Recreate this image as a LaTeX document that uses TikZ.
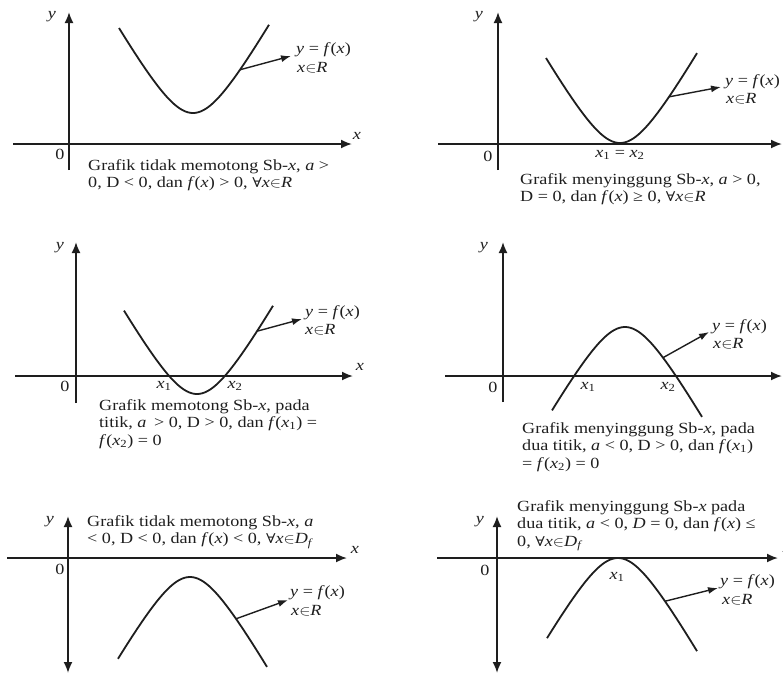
\documentclass[tikz,border=0pt]{standalone}
\usepackage{fontspec}
\usepackage{graphicx}
\setmainfont{Liberation Serif}
\newfontfamily\symfam{DejaVu Serif}
\usetikzlibrary{arrows.meta}
\definecolor{ink}{RGB}{30,30,30}
\tikzset{
  axis/.style={draw=ink, line width=1.8pt, -{Latex[length=11pt,width=9pt]}},
  daxis/.style={draw=ink, line width=1.8pt, {Latex[length=11pt,width=9pt]}-{Latex[length=11pt,width=9pt]}},
  graph/.style={draw=ink, line width=1.8pt, line join=round},
  pointer/.style={draw=ink, line width=1.4pt, -{Latex[length=10pt,width=7pt]}},
  lbl/.style={text=ink, font=\fontsize{15.5}{17.5}\selectfont, inner sep=0pt},
  fl/.style={lbl, anchor=west},
  captext/.style={lbl, anchor=base west},
}
\newcommand{\vx}{\textit{x}}
\newcommand{\fx}{\textit{f}(\textit{x})}
\newcommand{\fa}{{\symfam\fontsize{13.5}{17.5}\selectfont ∀}}
\newcommand{\sx}[1]{\scalebox{1.17}[1]{#1}}
\newcommand{\capt}[1]{\sx{\begin{tabular}[t]{@{}l@{}}#1\end{tabular}}}
\begin{document}
\begin{tikzpicture}[x=1pt,y=-1pt]
\useasboundingbox (0,0) rectangle (783,675);
% ---------------- Panel 1 ----------------
\coordinate (p1yb) at (69,170); \coordinate (p1yt) at (69,12);
\coordinate (p1xl) at (13,144); \coordinate (p1xr) at (352,144);
\draw[axis] (p1yb) -- (p1yt);
\draw[axis] (p1xl) -- (p1xr);
\node[lbl] (p1y) at (52,17) {\sx{\textit{y}}};
\node[lbl] (p1x) at (357,136) {\sx{\vx}};
\node[lbl] (p1o) at (60,154) {\sx{0}};
\draw[graph] plot[domain=-74:76, samples=70, smooth] ({193+\x},{113-1.77*(sqrt((\x)*(\x)+1089)-33)});
\coordinate (p1s) at ({193+47},{113-1.77*(sqrt(47*47+1089)-33)});
\node[fl] (p1f) at (296,50) {\sx{\textit{y} = \fx}};
\node[fl] (p1r) at (297,68) {\sx{\vx$\in$\textit{R}}};
\coordinate (p1e) at (291,56);
\draw[pointer] (p1s) -- (p1e);
\node[captext] (p1c) at (88,170) {\capt{Grafik tidak memotong Sb-\vx, \textit{a} >\\0, D < 0, dan \fx{} > 0, \fa\vx$\in$\textit{R}}};
% ---------------- Panel 2 ----------------
\coordinate (p2yb) at (498,170); \coordinate (p2yt) at (498,12);
\coordinate (p2xl) at (438,144); \coordinate (p2xr) at (782,144);
\draw[axis] (p2yb) -- (p2yt);
\draw[axis] (p2xl) -- (p2xr);
\node[lbl] (p2y) at (479,17) {\sx{\textit{y}}};
\node[lbl] (p2x) at (788,135) {\sx{\vx}};
\node[lbl] (p2o) at (488,156) {\sx{0}};
\draw[graph] plot[domain=-74:77, samples=70, smooth] ({620+\x},{143-1.77*(sqrt((\x)*(\x)+1089)-33)});
\coordinate (p2s) at ({620+49},{143-1.77*(sqrt(49*49+1089)-33)});
\node[fl] (p2f) at (725,82) {\sx{\textit{y} = \fx}};
\node[fl] (p2r) at (726,99) {\sx{\vx$\in$\textit{R}}};
\coordinate (p2e) at (721,87);
\draw[pointer] (p2s) -- (p2e);
\node[lbl] (p2x12) at (620,155) {\sx{\vx\textsubscript{1} = \vx\textsubscript{2}}};
\node[captext] (p2c) at (520,184) {\capt{Grafik menyinggung Sb-\vx, \textit{a} > 0,\\D = 0, dan \fx{} ≥ 0, \fa\vx$\in$\textit{R}}};
% ---------------- Panel 3 ----------------
\coordinate (p3yb) at (76,403); \coordinate (p3yt) at (76,242);
\coordinate (p3xl) at (15,376); \coordinate (p3xr) at (353,376);
\draw[axis] (p3yb) -- (p3yt);
\draw[axis] (p3xl) -- (p3xr);
\node[lbl] (p3y) at (60,248) {\sx{\textit{y}}};
\node[lbl] (p3x) at (360,367) {\sx{\vx}};
\node[lbl] (p3o) at (65,386) {\sx{0}};
\draw[graph] plot[domain=-73:76, samples=70, smooth] ({197+\x},{394-1.77*(sqrt((\x)*(\x)+1089)-33)});
\coordinate (p3s) at ({197+60},{394-1.77*(sqrt(60*60+1089)-33)});
\node[fl] (p3f) at (305,313) {\sx{\textit{y} = \fx}};
\node[fl] (p3r) at (305,330) {\sx{\vx$\in$\textit{R}}};
\coordinate (p3e) at (302,319);
\draw[pointer] (p3s) -- (p3e);
\node[lbl] (p3x1) at (164,386) {\sx{\vx\textsubscript{1}}};
\node[lbl] (p3x2) at (235,386) {\sx{\vx\textsubscript{2}}};
\node[captext] (p3c) at (99,410) {\capt{Grafik memotong Sb-\vx, pada\\titik, \textit{a}\, > 0, D > 0, dan \textit{f}(\vx\textsubscript{1}) =\\\textit{f}(\vx\textsubscript{2}) = 0}};
% ---------------- Panel 4 ----------------
\coordinate (p4yb) at (503,402); \coordinate (p4yt) at (503,242);
\coordinate (p4xl) at (445,376); \coordinate (p4xr) at (782,376);
\draw[axis] (p4yb) -- (p4yt);
\draw[axis] (p4xl) -- (p4xr);
\node[lbl] (p4y) at (484,248) {\sx{\textit{y}}};
\node[lbl] (p4o) at (493,387) {\sx{0}};
\draw[graph] plot[domain=-73:77, samples=70, smooth] ({625+\x},{327+1.77*(sqrt((\x)*(\x)+1089)-33)});
\coordinate (p4s) at ({625+38},{327+1.77*(sqrt(38*38+1089)-33)});
\node[fl] (p4f) at (712,327) {\sx{\textit{y} = \fx}};
\node[fl] (p4r) at (713,344) {\sx{\vx$\in$\textit{R}}};
\coordinate (p4e) at (709,332);
\draw[pointer] (p4s) -- (p4e);
\node[lbl] (p4x1) at (588,387) {\sx{\vx\textsubscript{1}}};
\node[lbl] (p4x2) at (668,387) {\sx{\vx\textsubscript{2}}};
\node[captext] (p4c) at (522,433) {\capt{Grafik menyinggung Sb-\vx, pada\\dua titik, \textit{a} < 0, D > 0, dan \textit{f}(\vx\textsubscript{1})\\= \textit{f}(\vx\textsubscript{2}) = 0}};
% ---------------- Panel 5 ----------------
\coordinate (p5yb) at (68,673); \coordinate (p5yt) at (68,516);
\coordinate (p5xl) at (7,558); \coordinate (p5xr) at (347,558);
\draw[daxis] (p5yb) -- (p5yt);
\draw[axis] (p5xl) -- (p5xr);
\node[lbl] (p5y) at (50,522) {\sx{\textit{y}}};
\node[lbl] (p5x) at (355,550) {\sx{\vx}};
\node[lbl] (p5o) at (60,569) {\sx{0}};
\draw[graph] plot[domain=-72:77, samples=70, smooth] ({190+\x},{577+1.77*(sqrt((\x)*(\x)+1089)-33)});
\coordinate (p5s) at ({190+46},{577+1.77*(sqrt(46*46+1089)-33)});
\node[fl] (p5f) at (290,593) {\sx{\textit{y} = \fx}};
\node[fl] (p5r) at (291,611) {\sx{\vx$\in$\textit{R}}};
\coordinate (p5e) at (288,600);
\draw[pointer] (p5s) -- (p5e);
\node[captext] (p5c) at (87,526) {\capt{Grafik tidak memotong Sb-\vx, \textit{a}\\< 0, D < 0, dan \fx{} < 0, \fa\vx$\in$\textit{D}\textsubscript{\textit{f}}}};
% ---------------- Panel 6 ----------------
\coordinate (p6yb) at (497,673); \coordinate (p6yt) at (497,516);
\coordinate (p6xl) at (437,558); \coordinate (p6xr) at (778,558);
\draw[daxis] (p6yb) -- (p6yt);
\draw[axis] (p6xl) -- (p6xr);
\node[lbl] (p6y) at (480,522) {\sx{\textit{y}}};
\node[lbl] (p6x) at (787,549) {\sx{\vx}};
\node[lbl] (p6o) at (485,570) {\sx{0}};
\draw[graph] plot[domain=-71:79, samples=70, smooth] ({618+\x},{558+1.77*(sqrt((\x)*(\x)+1089)-33)});
\coordinate (p6s) at ({618+47},{558+1.77*(sqrt(47*47+1089)-33)});
\node[fl] (p6f) at (720,582) {\sx{\textit{y} = \fx}};
\node[fl] (p6r) at (722,600) {\sx{\vx$\in$\textit{R}}};
\coordinate (p6e) at (718,588);
\draw[pointer] (p6s) -- (p6e);
\node[lbl] (p6x1) at (617,577) {\sx{\vx\textsubscript{1}}};
\node[captext] (p6c) at (517,511) {\capt{Grafik menyinggung Sb-\vx{} pada\\dua titik, \textit{a} < 0, \textit{D} = 0, dan \fx{} ≤\\0, \fa\vx$\in$\textit{D}\textsubscript{\textit{f}}}};
\end{tikzpicture}
\end{document}
